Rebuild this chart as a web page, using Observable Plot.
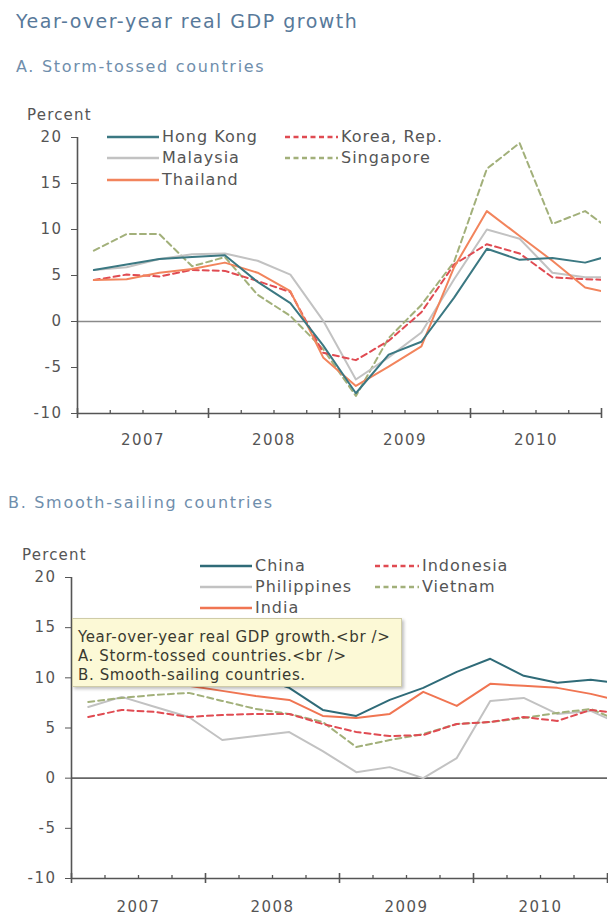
<!DOCTYPE html>
<html>
<head>
<meta charset="utf-8">
<script src="https://cdn.jsdelivr.net/npm/d3@7"></script>
<script src="https://cdn.jsdelivr.net/npm/@observablehq/plot@0.6"></script>
<style>
  html, body { margin: 0; padding: 0; background: #fff; }
  #page { position: relative; width: 608px; height: 916px; overflow: hidden;
          font-family: "DejaVu Sans", Verdana, sans-serif; }
  .abs { position: absolute; white-space: nowrap; line-height: 1; }
  .title { left: 16px; top: 12px; font-size: 19px; letter-spacing: 1.5px; color: #58799a; }
  .sub { font-size: 16px; letter-spacing: 1.7px; color: #6f8eac; }
  .unit { font-size: 15px; letter-spacing: 1.2px; color: #555; }
  .item { display: flex; align-items: center; height: 20px; font-size: 16px;
          letter-spacing: 1px; color: #555; }
  .item svg { display: block; margin-right: 3px; }
  .tip { left: 72px; top: 618px; width: 330px; height: 69px; box-sizing: border-box;
         padding: 9px 6px 3px 5px; background: #fcf9d6; border: 1px solid #cfcca8;
         box-shadow: 2px 2px 3px rgba(0,0,0,0.25); font-size: 15px; line-height: 19px;
         letter-spacing: 0.6px; color: #3a3a30; white-space: nowrap; }
  .chart { position: absolute; left: 0; }
</style>
</head>
<body>
<div id="page">
  <div class="abs title">Year-over-year real GDP growth</div>
  <div class="abs sub" style="left:16px;top:59px;">A. Storm-tossed countries</div>
  <div class="abs unit" style="left:27px;top:108px;">Percent</div>
  <div class="abs sub" style="left:8px;top:495px;">B. Smooth-sailing countries</div>
  <div class="abs unit" style="left:22px;top:548px;">Percent</div>
</div>
<script>
// Quarterly year-over-year real GDP growth, percent (2007Q1 .. 2011Q1)
const quarters = ["2007Q1","2007Q2","2007Q3","2007Q4","2008Q1","2008Q2","2008Q3","2008Q4",
                  "2009Q1","2009Q2","2009Q3","2009Q4","2010Q1","2010Q2","2010Q3","2010Q4","2011Q1"];

// Panel A: storm-tossed countries
const hongKong  = [5.6, 6.2, 6.8, 7.0, 7.2, 4.3, 2.0, -2.6, -7.8, -3.6, -2.2, 2.6, 7.9, 6.7, 6.9, 6.4, 7.4];
const korea     = [4.5, 5.1, 4.9, 5.6, 5.5, 4.4, 3.2, -3.4, -4.2, -2.1, 1.0, 6.2, 8.4, 7.4, 4.8, 4.6, 4.5];
const malaysia  = [5.6, 5.9, 6.8, 7.3, 7.4, 6.6, 5.1, 0.1, -6.3, -3.9, -1.2, 4.6, 10.0, 9.0, 5.3, 4.8, 4.8];
const singapore = [7.7, 9.5, 9.5, 6.0, 7.0, 2.9, 0.6, -3.0, -8.1, -1.8, 1.8, 6.5, 16.6, 19.4, 10.6, 12.0, 9.4];
const thailand  = [4.5, 4.6, 5.3, 5.7, 6.4, 5.3, 3.3, -3.9, -7.0, -4.9, -2.7, 5.9, 12.0, 9.3, 6.6, 3.7, 2.9];

// Panel B: smooth-sailing countries
const china       = [11.1, 11.9, 11.5, 11.2, 10.6, 10.1, 9.0, 6.8, 6.2, 7.8, 9.0, 10.6, 11.9, 10.2, 9.5, 9.8, 9.4];
const indonesia   = [6.1, 6.8, 6.6, 6.1, 6.3, 6.4, 6.4, 5.4, 4.6, 4.2, 4.3, 5.4, 5.6, 6.1, 5.7, 6.8, 6.4];
const philippines = [7.1, 8.1, 7.1, 6.1, 3.8, 4.2, 4.6, 2.7, 0.6, 1.1, 0.0, 2.0, 7.7, 8.0, 6.4, 6.7, 5.2];
const vietnam     = [7.6, 8.0, 8.3, 8.5, 7.7, 6.9, 6.4, 5.6, 3.1, 3.8, 4.4, 5.4, 5.6, 6.0, 6.5, 6.9, 5.5];
const india       = [9.6, 9.3, 9.3, 9.2, 8.7, 8.2, 7.8, 6.2, 6.0, 6.4, 8.6, 7.2, 9.4, 9.2, 9.0, 8.4, 7.6];

// Axis ticks and labels
const years = [2007, 2008, 2009, 2010, 2011];
const yearLabels = ["2007", "2008", "2009", "2010"];
const yTicks = [-10, -5, 0, 5, 10, 15, 20];

// Palette shared by both panels
const TEAL = "#3b7882", GREY = "#c2c2c2", ORANGE = "#f2845c", RED = "#e04b52", OLIVE = "#a2b07a";
const DASH = "6,4";

const seriesA = [
  {name: "Singapore",  values: singapore, color: OLIVE,  dashed: true},
  {name: "Malaysia",   values: malaysia,  color: GREY,   dashed: false},
  {name: "Korea, Rep.",values: korea,     color: RED,    dashed: true},
  {name: "Thailand",   values: thailand,  color: ORANGE, dashed: false},
  {name: "Hong Kong",  values: hongKong,  color: TEAL,   dashed: false}
];
const seriesB = [
  {name: "Philippines", values: philippines, color: GREY,    dashed: false},
  {name: "Vietnam",     values: vietnam,     color: OLIVE,   dashed: true},
  {name: "Indonesia",   values: indonesia,   color: RED,     dashed: true},
  {name: "India",       values: india,       color: "#f07552", dashed: false},
  {name: "China",       values: china,       color: "#2f6b78", dashed: false}
];

// Quarter label -> position at the middle of the quarter
const qx = (q) => +q.slice(0, 4) + (+q.slice(5) - 0.5) / 4;
const quarterTicks = d3.range(2007, 2011, 0.25).filter((t) => t % 1 !== 0);

function panel({series, width, height, marginTop, marginBottom, marginLeft, marginRight, labelPad, zeroColor}) {
  const axisColor = "#555";
  return Plot.plot({
    width, height, marginTop, marginBottom, marginLeft, marginRight,
    x: {type: "linear", domain: [2007, 2011]},
    y: {domain: [-10, 20]},
    style: {fontFamily: "DejaVu Sans, Verdana, sans-serif", fontSize: "15px", letterSpacing: "1.5px",
            color: "#555", background: "transparent"},
    marks: [
      Plot.ruleY([0], {stroke: zeroColor, strokeWidth: 1.6}),
      ...series.map((s) => Plot.line(
        quarters.map((q, i) => ({x: qx(q), v: s.values[i]})),
        {x: "x", y: "v", stroke: s.color, strokeWidth: 2, clip: true,
         strokeDasharray: s.dashed ? DASH : undefined})),
      Plot.ruleX([2007], {y1: -10, y2: 20, stroke: axisColor, strokeWidth: 1.6}),
      Plot.ruleY([-10], {stroke: axisColor, strokeWidth: 1.6}),
      Plot.ruleX(years, {x: (d) => d, y1: -10, y2: -10, insetTop: -5, insetBottom: -5,
                         stroke: axisColor, strokeWidth: 1.6}),
      Plot.ruleX(quarterTicks, {x: (d) => d, y1: -10, y2: -10, insetTop: -3, insetBottom: -1,
                                stroke: axisColor, strokeWidth: 1.3}),
      Plot.axisY(yTicks, {tickSize: 6, tickPadding: 9, label: null, stroke: axisColor,
                          tickFormat: (d) => String(d)}),
      Plot.axisX(yearLabels.map((y) => +y + 0.5), {tickSize: 0, tickPadding: labelPad, label: null,
                 tickFormat: (d) => String(Math.floor(d))})
    ]
  });
}

const page = document.getElementById("page");

const chartA = panel({series: seriesA, width: 608, height: 360, marginTop: 42, marginBottom: 42,
                      marginLeft: 77, marginRight: 7, labelPad: 21, zeroColor: "#8a8a8a"});
chartA.classList.add("chart");
chartA.style.top = "95px";
page.appendChild(chartA);

const chartB = panel({series: seriesB, width: 608, height: 376, marginTop: 37, marginBottom: 38,
                      marginLeft: 71, marginRight: 1, labelPad: 23, zeroColor: "#666"});
chartB.classList.add("chart");
chartB.style.top = "540px";
page.appendChild(chartB);

// Legends drawn inside each plot area
function legendItem(s, left, centerY, swatch) {
  const div = document.createElement("div");
  div.className = "abs item";
  div.style.left = left + "px";
  div.style.top = (centerY - 10) + "px";
  const svg = d3.create("svg").attr("width", swatch).attr("height", 6);
  svg.append("line").attr("x1", 0).attr("x2", swatch).attr("y1", 3).attr("y2", 3)
    .attr("stroke", s.color).attr("stroke-width", 2.6)
    .attr("stroke-dasharray", s.dashed ? "5,3.5" : null);
  div.appendChild(svg.node());
  const span = document.createElement("span");
  span.textContent = s.name;
  div.appendChild(span);
  page.appendChild(div);
}
const byName = (list, n) => list.find((s) => s.name === n);
[["Hong Kong", 107, 137, 52], ["Malaysia", 107, 158, 52], ["Thailand", 107, 180, 52],
 ["Korea, Rep.", 285, 137, 53], ["Singapore", 285, 158, 53]]
  .forEach(([n, l, c, w]) => legendItem(byName(seriesA, n), l, c, w));
[["China", 200, 566, 52], ["Philippines", 200, 587, 52], ["India", 200, 608, 52],
 ["Indonesia", 375, 566, 44], ["Vietnam", 375, 587, 44]]
  .forEach(([n, l, c, w]) => legendItem(byName(seriesB, n), l, c, w));

// Hover note box over panel B
const tip = document.createElement("div");
tip.className = "abs tip";
["Year-over-year real GDP growth.<br />", "A. Storm-tossed countries.<br />", "B. Smooth-sailing countries."]
  .forEach((t) => { const d = document.createElement("div"); d.textContent = t; tip.appendChild(d); });
page.appendChild(tip);
</script>
</body>
</html>
